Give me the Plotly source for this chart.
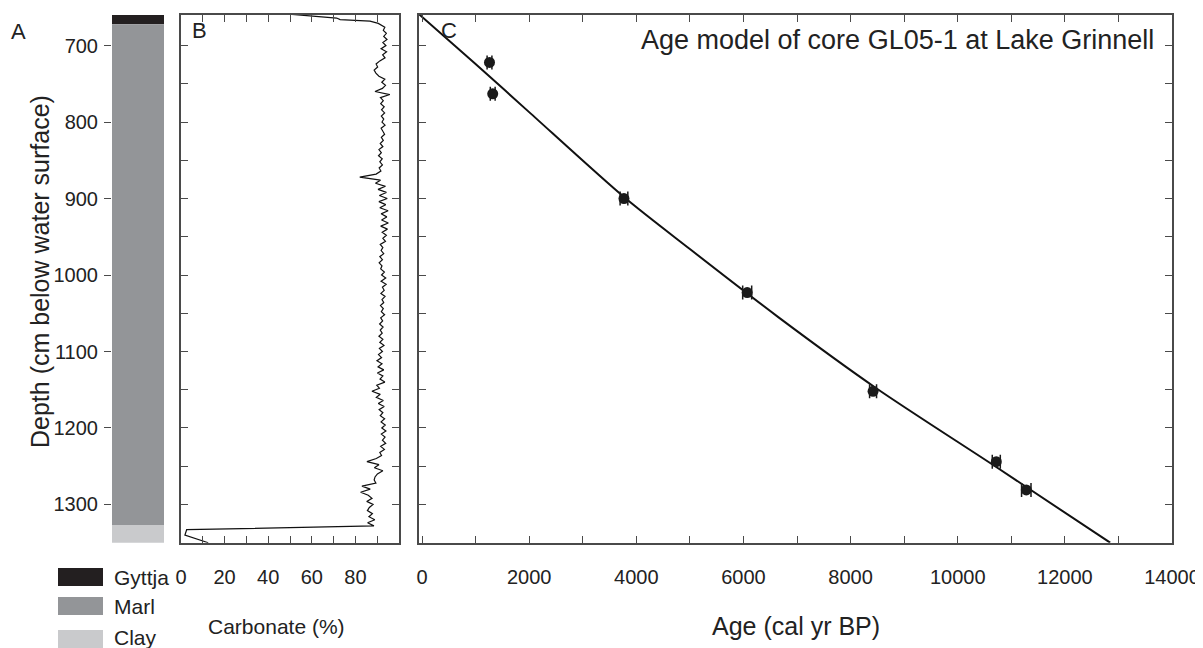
import plotly.graph_objects as go

# page offset (browser body margin) compensation
OFF = 8
W, H = 1203 - OFF, 648 - OFF

# ---------------- data ----------------
# Lithology (panel A): unit, top depth, bottom depth (cm)
litho_units = ["Gyttja", "Marl", "Clay"]
litho_top = [660, 672, 1327]
litho_bottom = [672, 1327, 1352]
litho_colors = ["#231f20", "#939598", "#c9cacc"]

# Carbonate (panel B)
carb_depth = [659, 664, 666, 668, 671,
    676, 680, 684, 688, 692, 696, 700, 704, 708, 712,
    716, 720, 724, 728, 732, 736, 740, 744, 748, 752,
    756, 760, 764, 768, 772, 776, 780, 784, 788, 792,
    796, 800, 804, 808, 812, 816, 820, 824, 828, 832,
    836, 840, 844, 848, 852, 856, 860, 864, 868, 872,
    876, 880, 884, 888, 892, 896, 900, 904, 908, 912,
    916, 920, 924, 928, 932, 936, 940, 944, 948, 952,
    956, 960, 964, 968, 972, 976, 980, 984, 988, 992,
    996, 1000, 1004, 1008, 1012, 1016, 1020, 1024, 1028, 1032,
    1036, 1040, 1044, 1048, 1052, 1056, 1060, 1064, 1068, 1072,
    1076, 1080, 1084, 1088, 1092, 1096, 1100, 1104, 1108, 1112,
    1116, 1120, 1124, 1128, 1132, 1136, 1140, 1144, 1148, 1152,
    1156, 1160, 1164, 1168, 1172, 1176, 1180, 1184, 1188, 1192,
    1196, 1200, 1204, 1208, 1212, 1216, 1220, 1224, 1228, 1232,
    1236, 1240, 1244, 1248, 1252, 1256, 1260, 1264, 1268, 1272,
    1276, 1280, 1284, 1288, 1292, 1296, 1300, 1304, 1308, 1312,
    1316, 1320, 1324, 1328,
    1333, 1340, 1350]
carb_pct = [50.0, 71.4, 73.0, 86.7, 90.5,
    93.5, 92.8, 94.2, 93.0, 94.5, 92.6, 94.0, 91.8, 94.3, 92.5,
    93.6, 91.2, 89.5, 90.2, 88.6, 89.4, 90.8, 93.5, 92.1, 93.8,
    92.4, 89.0, 95.8, 91.5, 92.8, 91.6, 93.2, 92.0, 93.4, 91.9,
    93.0, 92.2, 93.6, 91.8, 92.7, 93.4, 91.9, 92.8, 91.4, 92.6,
    90.8, 91.9, 90.6, 92.3, 91.2, 92.4, 90.9, 91.7, 89.5, 82.0,
    91.5, 89.2, 93.8, 90.4, 94.2, 91.0, 94.6, 90.8, 93.9, 91.2,
    95.0, 91.8, 94.4, 92.0, 95.1, 91.6, 94.7, 92.3, 94.2, 92.6,
    93.8, 91.4, 92.6, 91.8, 93.0, 91.2, 92.4, 90.9, 92.2, 91.6,
    93.3, 92.0, 93.9, 91.8, 94.1, 92.4, 93.2, 91.7, 93.6, 92.2,
    93.0, 91.5, 92.8, 91.9, 93.4, 91.6, 92.5, 91.1, 92.7, 91.4,
    92.3, 90.8, 92.6, 91.2, 93.1, 91.0, 92.4, 90.6, 92.0, 89.9,
    92.2, 90.4, 93.0, 90.1, 92.6, 91.3, 93.5, 89.8, 91.0, 87.6,
    91.4, 89.6, 92.8, 90.5, 93.2, 90.9, 92.6, 91.4, 93.4, 91.8,
    93.7, 92.1, 94.0, 91.9, 93.6, 92.4, 93.9, 91.6, 93.3, 91.2,
    92.0, 89.6, 85.3, 90.8, 88.7, 92.6, 90.1, 89.0, 88.6, 89.4,
    83.0, 86.8, 82.4, 85.9, 87.6, 85.2, 88.1, 86.4, 85.5, 87.8,
    86.2, 88.9, 85.6, 88.5,
    2.6, 1.8, 12.5]

# Age control points (panel C)
date_age = [1260, 1320, 3770, 6070, 8420, 10720, 11280]
date_depth = [722, 763, 900, 1023, 1152, 1244, 1281]
date_age_err = [45, 45, 72, 84, 65, 75, 88]

# Age model curve (panel C)
model_age = [-56, 1000, 2000, 3770, 5000, 6650, 8480, 10740, 12846]
model_depth = [659, 724, 787, 898, 966, 1055, 1148, 1252, 1350]

depth_ticks = [700, 800, 900, 1000, 1100, 1200, 1300]
carb_ticks = [0, 20, 40, 60, 80]
age_ticks = [0, 2000, 4000, 6000, 8000, 10000, 12000, 14000]
age_tick_text = ["0", "2000", "4000", "6000", "8000", "10000", "12000", "14000"]

# ---------------- layout helpers ----------------
def px_x(x):
    return (x - OFF) / W

def px_y(y):
    return 1 - (y - OFF) / H

FONT = "Liberation Sans, Arial, sans-serif"
FRAME = "#4a4a4a"
ydom = [px_y(542.7), px_y(15)]
yrange = [1350, 660]

fig = go.Figure()

# Panel A: lithology column
for name, t, b, c in zip(litho_units, litho_top, litho_bottom, litho_colors):
    fig.add_trace(go.Bar(x=[0], y=[b - t], base=[t], width=[1], marker=dict(color=c, line=dict(width=0)),
                         name=name, showlegend=False, xaxis="x", yaxis="y", cliponaxis=False,
                         hoverinfo="skip"))

# Panel B: carbonate
fig.add_trace(go.Scatter(x=carb_pct, y=carb_depth, mode="lines", line=dict(color="#111111", width=1.2),
                         showlegend=False, xaxis="x2", yaxis="y2"))

# Panel C: age model
fig.add_trace(go.Scatter(x=model_age, y=model_depth, mode="lines",
                         line=dict(color="#111111", width=2, shape="spline", smoothing=0.8),
                         showlegend=False, xaxis="x3", yaxis="y3"))
fig.add_trace(go.Scatter(x=date_age, y=date_depth, mode="markers",
                         marker=dict(color="#1a1a1a", size=11),
                         error_x=dict(type="data", array=date_age_err, visible=True, color="#1a1a1a",
                                      thickness=1.5, width=7),
                         showlegend=False, xaxis="x3", yaxis="y3"))

tickfont = dict(family=FONT, size=20, color="#222222")
frame_common = dict(showline=True, linecolor=FRAME, linewidth=1.5, mirror="ticks", ticks="inside",
                    ticklen=7, tickcolor=FRAME, tickwidth=1.3, showgrid=False, zeroline=False,
                    automargin=False)

fig.update_layout(
    width=W, height=H, margin=dict(l=0, r=0, t=0, b=0, pad=0, autoexpand=False),
    paper_bgcolor="white", plot_bgcolor="white", barmode="overlay",
    xaxis=dict(domain=[px_x(112), px_x(164)], range=[-0.5, 0.5], visible=False, fixedrange=True,
               automargin=False),
    yaxis=dict(domain=ydom, range=yrange, anchor="x", tickvals=depth_ticks, ticks="outside", ticklen=7,
               tickcolor=FRAME, tickwidth=1.3, showline=False, showgrid=False, zeroline=False,
               tickfont=tickfont, ticklabelstandoff=2, automargin=False),
    xaxis2=dict(domain=[px_x(181), px_x(399)], range=[0, 100], anchor="y2", tickvals=carb_ticks,
                minor=dict(dtick=10, tick0=0, ticks="inside", ticklen=7, tickcolor=FRAME, tickwidth=1.3),
                tickfont=tickfont, ticklabelstandoff=16, **frame_common),
    yaxis2=dict(domain=ydom, range=yrange, anchor="x2", dtick=50, tick0=0, showticklabels=False, **frame_common),
    xaxis3=dict(domain=[px_x(419), px_x(1172)], range=[-56, 14000], anchor="y3", tickvals=age_ticks,
                ticktext=age_tick_text,
                minor=dict(dtick=1000, tick0=0, ticks="inside", ticklen=7, tickcolor=FRAME, tickwidth=1.3),
                tickfont=tickfont, ticklabelstandoff=16, **frame_common),
    yaxis3=dict(domain=ydom, range=yrange, anchor="x3", dtick=50, tick0=0, showticklabels=False, **frame_common),
)

ann = []
def text(s, x, y, size, xanchor="center", yanchor="middle", angle=0):
    ann.append(dict(text=s, x=px_x(x), y=px_y(y), xref="paper", yref="paper", showarrow=False,
                    xanchor=xanchor, yanchor=yanchor, textangle=angle,
                    font=dict(family=FONT, size=size, color="#222222")))

text("A", 18, 32, 22)
text("B", 199, 31, 22)
text("C", 449, 31, 22)
text("Age model of core GL05-1 at Lake Grinnell", 1156, 40, 27, xanchor="right")
text("Depth (cm below water surface)", 40, 272, 25, angle=-90)
text("Carbonate (%)", 276, 626, 21)
text("Age (cal yr BP)", 796, 626, 25)

shapes = []
legend_y = [(568, 586), (597, 615), (630, 648)]
legend_text_y = [577, 606, 637]
for name, c, (y0, y1), ty in zip(litho_units, litho_colors, legend_y, legend_text_y):
    shapes.append(dict(type="rect", xref="paper", yref="paper", x0=px_x(58), x1=px_x(103),
                       y0=px_y(y1), y1=px_y(y0), fillcolor=c, line=dict(width=0)))
    text(name, 112, ty, 21, xanchor="left")

fig.update_layout(annotations=ann, shapes=shapes)
fig.write_html("out.html")
